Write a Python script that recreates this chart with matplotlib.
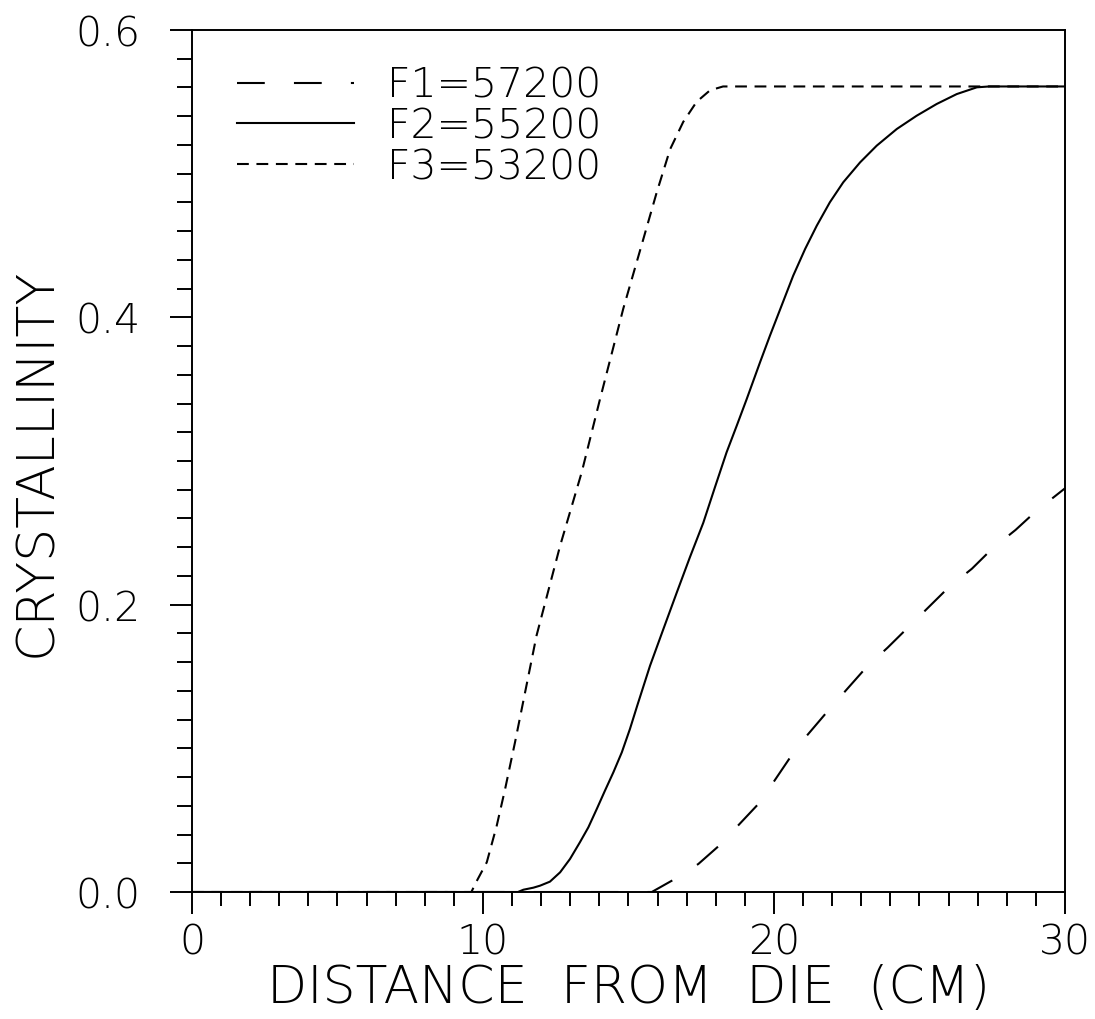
import matplotlib
matplotlib.use("Agg")
import matplotlib.pyplot as plt
from matplotlib import font_manager
from matplotlib.ticker import MultipleLocator, FixedLocator, FixedFormatter

# Pick a thin sans face when one is installed, to get a pen-plotter look
def _thin_face():
    wanted = ["DejaVu Sans", "Lato", "Open Sans", "Roboto", "Noto Sans", "Inter"]
    found = {}
    for f in font_manager.fontManager.ttflist:
        w = f.weight if isinstance(f.weight, int) else 400
        if f.name in wanted and f.style == "normal" and w <= 300:
            found.setdefault(f.name, []).append(w)
    for name in wanted:
        if name in found:
            return name, max(found[name])
    return "DejaVu Sans", 400

face, weight = _thin_face()
plt.rcParams["font.family"] = [face, "DejaVu Sans"]
plt.rcParams["font.weight"] = weight
plt.rcParams["axes.labelweight"] = weight
plt.rcParams["lines.scale_dashes"] = False

# Crystallinity profiles along the spinline for three take-up forces
x_f1 = [0.0, 15.8, 16.5, 17.4, 18.1, 18.8, 19.45, 20.0, 20.8, 21.85, 22.5,
        23.2, 23.9, 24.6, 25.3, 26.0, 26.8, 27.5, 28.3, 29.0, 30.0]
y_f1 = [0.0, 0.0, 0.008, 0.0195, 0.032, 0.047, 0.061, 0.077, 0.101, 0.126, 0.141,
        0.157, 0.170, 0.184, 0.198, 0.212, 0.225, 0.239, 0.252, 0.265, 0.281]

x_f2 = [0.0, 11.2, 11.39, 11.73, 11.96, 12.30, 12.65, 12.99, 13.33, 13.62, 13.91,
        14.19, 14.48, 14.77, 15.05, 15.3, 15.74, 16.20, 16.66, 17.11, 17.57, 17.97,
        18.37, 18.72, 19.06, 19.52, 19.86, 20.26, 20.66, 21.07, 21.47, 21.92, 22.38,
        22.96, 23.53, 24.22, 24.90, 25.59, 26.28, 26.97, 27.4, 30.0]
y_f2 = [0.0, 0.0, 0.0016, 0.0030, 0.0044, 0.0072, 0.0137, 0.0230, 0.0346, 0.0450, 0.0578,
        0.0705, 0.0833, 0.0972, 0.1135, 0.1297, 0.1575, 0.1831, 0.2085, 0.2330, 0.257, 0.2817,
        0.306, 0.3246, 0.343, 0.3687, 0.3872, 0.4081, 0.4290, 0.4476, 0.4638, 0.4801, 0.4940,
        0.5079, 0.5195, 0.5311, 0.5403, 0.5485, 0.5554, 0.5601, 0.5607, 0.5607]

x_f3 = [0.0, 9.6, 9.76, 10.13, 10.47, 10.76, 10.93, 11.10, 11.84, 12.65, 13.39,
        14.02, 14.82, 15.51, 15.97, 16.43, 16.88, 17.34, 17.8, 18.25, 30.0]
y_f3 = [0.0, 0.0, 0.0067, 0.0207, 0.046, 0.0717, 0.088, 0.1042, 0.1785, 0.241, 0.292,
        0.343, 0.406, 0.4545, 0.487, 0.517, 0.536, 0.550, 0.558, 0.5607, 0.5607]

labels = ["F1=57200", "F2=55200", "F3=53200"]

x_major = [0, 10, 20, 30]
y_major = [0.0, 0.2, 0.4, 0.6]
y_major_labels = ["0.0", "0.2", "0.4", "0.6"]

fig = plt.figure(figsize=(10.95, 10.2), dpi=100)
ax = fig.add_axes([192 / 1095, 1 - 893 / 1020, 873 / 1095, 862 / 1020])

lw = 1.5
common = dict(color="black", lw=lw, solid_joinstyle="round", dash_joinstyle="round")
ax.plot(x_f1, y_f1, linestyle=(0, (20, 21)), label=labels[0], **common)
ax.plot(x_f2, y_f2, linestyle="-", label=labels[1], **common)
ax.plot(x_f3, y_f3, linestyle=(0, (8.5, 5.5)), label=labels[2], **common)

ax.set_xlim(0, 30)
ax.set_ylim(0, 0.6)

ax.xaxis.set_major_locator(FixedLocator(x_major))
ax.xaxis.set_minor_locator(MultipleLocator(1))
ax.yaxis.set_major_locator(FixedLocator(y_major))
ax.yaxis.set_major_formatter(FixedFormatter(y_major_labels))
ax.yaxis.set_minor_locator(MultipleLocator(0.02))

ax.tick_params(which="both", direction="out", top=False, right=False,
               width=1.4, color="black")
ax.tick_params(axis="x", which="major", length=16, pad=6, labelsize=29.5)
ax.tick_params(axis="x", which="minor", length=10)
ax.tick_params(axis="y", which="major", length=16, pad=21, labelsize=29.5)
ax.tick_params(axis="y", which="minor", length=11)

for side in ["left", "right", "top", "bottom"]:
    ax.spines[side].set_linewidth(1.4)
    ax.spines[side].set_color("black")

ax.set_xlabel("DISTANCE  FROM  DIE  (CM)", fontsize=37.5, labelpad=1)
ax.set_ylabel("CRYSTALLINITY", fontsize=37.5, labelpad=10)

ax.legend(loc="upper left", bbox_to_anchor=(45 / 873, 1 - 36 / 862),
          frameon=False, fontsize=29.5, handlelength=2.85, handletextpad=0.8,
          labelspacing=0.04, borderpad=0, borderaxespad=0)

fig.savefig("out.png", dpi=100, facecolor="white")
